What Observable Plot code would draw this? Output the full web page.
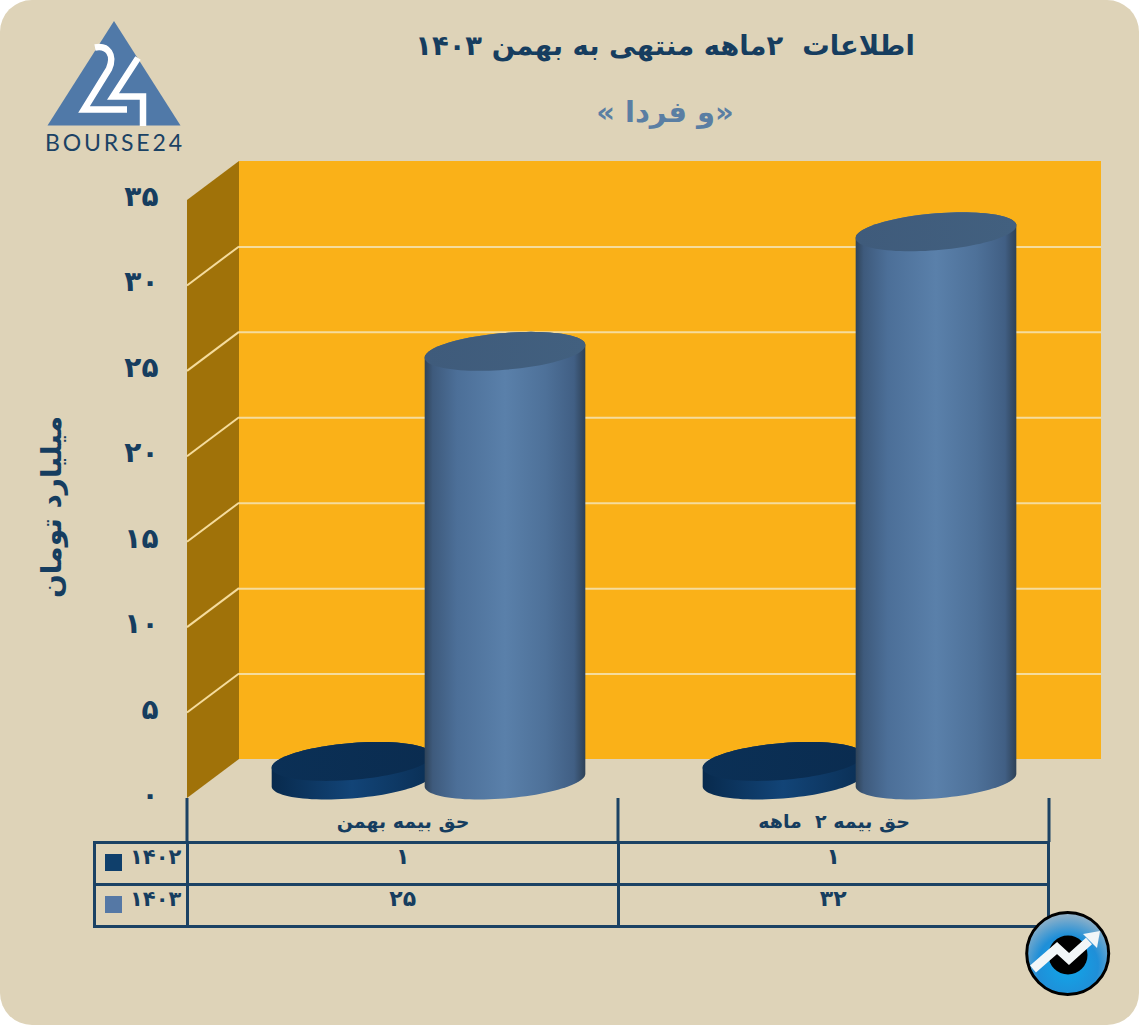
<!DOCTYPE html>
<html lang="fa">
<head>
<meta charset="utf-8">
<script src="https://cdn.jsdelivr.net/npm/d3@7"></script>
<script src="https://cdn.jsdelivr.net/npm/@observablehq/plot@0.6"></script>
<style>
html,body{margin:0;padding:0;background:#fff}
#page{position:relative;width:1139px;height:1025px;background:#ded3b8;border-radius:32px;overflow:hidden;font-family:"DejaVu Sans",sans-serif;color:#163d5f}
#page svg{display:block;background:transparent;overflow:visible}
h1,h2{position:absolute;left:215px;width:900px;margin:0;text-align:center;font-weight:bold;direction:rtl;white-space:pre}
h1{top:28px;font-size:27.4px;line-height:36px;color:#163d5f}
h2{top:92px;font-size:29px;line-height:40px;color:#5a7ea3}
#ylabel{position:absolute;left:-48px;top:487px;width:200px;height:40px;line-height:40px;text-align:center;font-size:28px;font-weight:bold;direction:rtl;transform:rotate(-90deg);color:#163d5f}
g[aria-label="y-axis tick label"] text{font:bold 28px "DejaVu Sans",sans-serif;letter-spacing:3px}
g[aria-label="x-axis tick label"] text{font:bold 19px "DejaVu Sans",sans-serif}
#table{position:absolute;left:93px;top:841px;border-collapse:collapse;table-layout:fixed;width:957px}
#table td{border:3px solid #1b4264;height:40px;padding:0 0 13px;text-align:center;font-weight:bold;font-size:22px;line-height:26px;box-sizing:border-box}
#table td.lab{position:relative;width:93px;font-size:21px;padding-left:34px;text-align:left}
#table i{position:absolute;left:9px;top:10px;width:17px;height:17px}
#logo,#badge{position:absolute;left:0;top:0;pointer-events:none}
</style>
</head>
<body>
<div id="page">
<div id="chart"></div>
<h1 id="title"></h1>
<h2 id="subtitle"></h2>
<div id="ylabel"></div>
<table id="table"></table>
<svg id="logo" width="1139" height="1025" viewBox="0 0 1139 1025">
  <path d="M114 21L180.500 125.500H47.500Z" fill="#5079a8"/>
  <g fill="none" stroke="#fff" stroke-width="6.500">
    <path d="M95 47.500C108 45 115 55 109 69L84 109.500H127"/>
    <path d="M138 58L113 96.500H143V126"/>
  </g>
  <text x="45" y="151" textLength="137" lengthAdjust="spacing" font-family="Lato" font-size="23" fill="#1b4264">BOURSE24</text>
</svg>
<svg id="badge" width="1139" height="1025" viewBox="0 0 1139 1025">
  <defs><radialGradient id="bd" cx="50%" cy="65%" r="62%"><stop offset="0" stop-color="#10a8ea"/><stop offset=".6" stop-color="#1f8fd8"/><stop offset="1" stop-color="#8db0c9"/></radialGradient></defs>
  <circle cx="1067.700" cy="953.500" r="41" fill="url(#bd)" stroke="#000" stroke-width="3"/>
  <circle cx="1068" cy="955" r="19.500" fill="#000"/>
  <path d="M1033 969L1057 948L1069 959L1089 941" fill="none" stroke="#f2f6f8" stroke-width="9"/>
  <path d="M1083 934L1100 931L1097 948Z" fill="#f2f6f8"/>
</svg>
</div>
<script>
const titleText = "اطلاعات  ۲ماهه منتهی به بهمن ۱۴۰۳";
const subtitleText = "«و فردا »";
const yAxisTitle = "میلیارد تومان";
const categories = ["حق بیمه بهمن", "حق بیمه ۲\u00a0\u00a0ماهه"];
const seriesNames = ["۱۴۰۲", "۱۴۰۳"];
const values1402 = [1, 1];
const values1403 = [25, 32];
const yTicks = [0, 5, 10, 15, 20, 25, 30, 35];
const yTickLabels = ["۰", "۵", "۱۰", "۱۵", "۲۰", "۲۵", "۳۰", "۳۵"];
const gridTicks = [5, 10, 15, 20, 25, 30];
const labels1402 = ["۱", "۱"];
const labels1403 = ["۲۵", "۳۲"];
const swatches = ["#0f3f6b", "#5578a5"];

const bars = categories.flatMap((c, i) => [
  {category: c, series: 0, value: values1402[i]},
  {category: c, series: 1, value: values1403[i]}
]);

document.getElementById("title").textContent = titleText;
document.getElementById("subtitle").textContent = subtitleText;
document.getElementById("ylabel").textContent = yAxisTitle;

// Oblique depth of the 3D box
const DX = 52, DY = 39;

function sideWall(_, {x, y}, __, dim) {
  const g = d3.create("svg:g");
  const x0 = dim.marginLeft;
  const quad = [[x0, y(0)], [x0 + DX, y(0) - DY], [x0 + DX, y(35) - DY], [x0, y(35)]];
  g.append("path").attr("d", d3.line()(quad) + "Z").attr("fill", "#a07209");
  for (const t of gridTicks) {
    g.append("line").attr("x1", x0).attr("x2", x0 + DX).attr("y1", y(t)).attr("y2", y(t) - DY)
      .attr("stroke", "#f5dc9d").attr("stroke-width", 2);
  }
  return g.node();
}

function axisDividers(_, {x}, __, dim) {
  const g = d3.create("svg:g");
  const bw = x.bandwidth ? x.bandwidth() : 431;
  const xs = [...categories.map((c) => x(c)), x(categories[1]) + bw];
  for (const v of xs) {
    g.append("line").attr("x1", v).attr("x2", v).attr("y1", dim.height - dim.marginBottom).attr("y2", dim.height)
      .attr("stroke", "#1b4264").attr("stroke-width", 3);
  }
  return g.node();
}

function cylinders(_, {x, y}, __, dim) {
  const g = d3.create("svg:g");
  const bw = x.bandwidth ? x.bandwidth() : 431;
  const defs = g.append("defs");
  const grad = (id, stops) => {
    const l = defs.append("linearGradient").attr("id", id);
    stops.forEach(([o, c]) => l.append("stop").attr("offset", o).attr("stop-color", c));
  };
  grad("side0", [[0, "#082a4d"], [.5, "#124477"], [1, "#0a2f55"]]);
  grad("side1", [[0, "#2f4358"], [.05, "#3e5a7c"], [.2, "#4c6f98"], [.5, "#5a80aa"], [.75, "#4e7199"], [.93, "#415f84"], [1, "#2e4156"]]);
  grad("top0", [[0, "#0b3056"], [1, "#0a2c50"]]);
  grad("top1", [[0, "#3f5b7b"], [1, "#42607f"]]);
  const R = 76, HX = DX / 2, HY = DY / 2, tE = Math.atan(HX / R);
  const pt = (cx, cy, t) => [cx + R * Math.cos(t) + HX * Math.sin(t), cy - HY * Math.sin(t)];
  const line = d3.line();
  const seriesOffset = [-76.5, 76.5];
  for (const b of bars) {
    const cx = x(b.category) + bw / 2 + HX + seriesOffset[b.series];
    const cyTop = y(b.value) - HY;
    const cyBase = y(0) - HY + 1.5;
    const lowerBase = d3.range(0, 49).map((k) => pt(cx, cyBase, tE - Math.PI + (k / 48) * Math.PI));
    const upperTop = d3.range(0, 49).map((k) => pt(cx, cyTop, tE + (k / 48) * Math.PI));
    g.append("path").attr("d", line([...lowerBase, ...upperTop]) + "Z").attr("fill", `url(#side${b.series})`);
    const whole = d3.range(0, 96).map((k) => pt(cx, cyTop, (k / 96) * 2 * Math.PI));
    g.append("path").attr("d", line(whole) + "Z").attr("fill", `url(#top${b.series})`);
  }
  return g.node();
}

const plot = Plot.plot({
  width: 1139,
  height: 842,
  marginLeft: 187,
  marginRight: 90,
  marginTop: 200,
  marginBottom: 44,
  style: {background: "transparent", color: "#163d5f"},
  x: {type: "band", domain: categories, padding: 0, axis: null},
  y: {domain: [0, 35], axis: null},
  marks: [
    Plot.rect([0], {y1: () => 0, y2: () => 35, dx: DX, dy: -DY, fill: "#fab118"}),
    Plot.ruleY(gridTicks, {dx: DX, dy: -DY, stroke: "#f5dc9d", strokeWidth: 2}),
    sideWall,
    Plot.axisY({ticks: yTicks, tickSize: 0, tickPadding: 29, dy: -3.5, fill: "#163d5f",
      tickFormat: (d) => yTickLabels[yTicks.indexOf(d)]}),
    Plot.axisX({tickSize: 0, tickPadding: 16, fill: "#163d5f", label: null}),
    axisDividers,
    cylinders
  ]
});
document.getElementById("chart").append(plot);

const table = document.getElementById("table");
[[labels1402, 0], [labels1403, 1]].forEach(([labels, s]) => {
  const tr = table.insertRow();
  const lab = tr.insertCell();
  lab.className = "lab";
  lab.textContent = seriesNames[s];
  const sw = document.createElement("i");
  sw.style.background = swatches[s];
  lab.append(sw);
  labels.forEach((t) => { tr.insertCell().textContent = t; });
});
</script>
</body>
</html>
